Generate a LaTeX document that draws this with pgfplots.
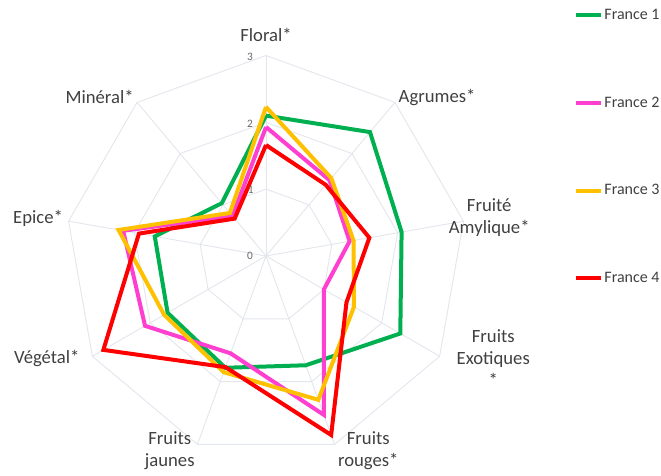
\documentclass[border=0pt]{standalone}
\usepackage{fontspec}
\setmainfont{Carlito}
\usepackage{pgfplots}
\pgfplotsset{compat=1.18}
\definecolor{cgreen}{HTML}{00B050}
\definecolor{cpink}{HTML}{FF3FD0}
\definecolor{cyellow}{HTML}{FFC000}
\definecolor{cred}{HTML}{FF0000}
\definecolor{gridc}{HTML}{E3E6EC}
\definecolor{txt}{HTML}{404040}
\begin{document}
\begin{tikzpicture}
\begin{axis}[
  x=50.1pt, y=50.1pt,
  xmin=-3.98, xmax=5.91, ymin=-3.28, ymax=3.83,
  hide axis, clip=false,
  legend style={at={(axis cs:4.60,3.72)}, anchor=north west, draw=none, fill=none,
    inner sep=0pt, row sep=54.5pt, font=\fontsize{12}{13.5}\selectfont, text=txt,
    nodes={inner sep=1pt}},
  legend cell align=left,
  legend image code/.code={\draw[#1] (0pt,0pt) -- (19pt,0pt);},
  every axis plot/.append style={line width=3pt},
]
% grid nonagons
\addplot[gridc, line width=0.7pt, data cs=polar, forget plot] coordinates {(90,1)(50,1)(10,1)(-30,1)(-70,1)(-110,1)(-150,1)(170,1)(130,1)(90,1)};
\addplot[gridc, line width=0.7pt, data cs=polar, forget plot] coordinates {(90,2)(50,2)(10,2)(-30,2)(-70,2)(-110,2)(-150,2)(170,2)(130,2)(90,2)};
\addplot[gridc, line width=0.7pt, data cs=polar, forget plot] coordinates {(90,3)(50,3)(10,3)(-30,3)(-70,3)(-110,3)(-150,3)(170,3)(130,3)(90,3)};
% spokes
\addplot[gridc, line width=0.7pt, data cs=polar, forget plot] coordinates {(90,0)(90,3)};
\addplot[gridc, line width=0.7pt, data cs=polar, forget plot] coordinates {(50,0)(50,3)};
\addplot[gridc, line width=0.7pt, data cs=polar, forget plot] coordinates {(10,0)(10,3)};
\addplot[gridc, line width=0.7pt, data cs=polar, forget plot] coordinates {(-30,0)(-30,3)};
\addplot[gridc, line width=0.7pt, data cs=polar, forget plot] coordinates {(-70,0)(-70,3)};
\addplot[gridc, line width=0.7pt, data cs=polar, forget plot] coordinates {(-110,0)(-110,3)};
\addplot[gridc, line width=0.7pt, data cs=polar, forget plot] coordinates {(-150,0)(-150,3)};
\addplot[gridc, line width=0.7pt, data cs=polar, forget plot] coordinates {(170,0)(170,3)};
\addplot[gridc, line width=0.7pt, data cs=polar, forget plot] coordinates {(130,0)(130,3)};
% series: Floral, Agrumes, Fruite, Exotiques, rouges, jaunes, Vegetal, Epice, Mineral
\addplot[cgreen, data cs=polar] coordinates {(90,2.10)(50,2.42)(10,2.06)(-30,2.32)(-70,1.74)(-110,1.78)(-150,1.70)(170,1.69)(130,1.03)(90,2.10)};
\addlegendentry{France 1}
\addplot[cpink, data cs=polar] coordinates {(90,1.93)(50,1.48)(10,1.27)(-30,1.00)(-70,2.53)(-110,1.55)(-150,2.09)(170,2.17)(130,0.78)(90,1.93)};
\addlegendentry{France 2}
\addplot[cyellow, data cs=polar] coordinates {(90,2.23)(50,1.52)(10,1.33)(-30,1.52)(-70,2.29)(-110,1.85)(-150,1.76)(170,2.24)(130,0.84)(90,2.23)};
\addlegendentry{France 3}
\addplot[cred, data cs=polar] coordinates {(90,1.66)(50,1.39)(10,1.57)(-30,1.39)(-70,2.85)(-110,1.77)(-150,2.81)(170,1.93)(130,0.73)(90,1.66)};
\addlegendentry{France 4}
% tick labels
\begin{scope}[every node/.style={text=txt!80, font=\fontsize{8.5}{10}\selectfont}]
\node at (axis cs:-0.24,2.98) {3};
\node at (axis cs:-0.24,1.98) {2};
\node at (axis cs:-0.23,0.99) {1};
\node at (axis cs:-0.24,0) {0};
\end{scope}
% category labels
\begin{scope}[every node/.style={text=txt, align=center, font=\fontsize{14}{16.5}\selectfont}]
\node at (axis cs:0,3.31) {Floral*};
\node at (axis cs:2.56,2.37) {Agrumes*};
\node at (axis cs:3.34,0.57) {Fruité\\Amylique*};
\node at (axis cs:3.40,-1.53) {Fruits\\Exotiques\\*};
\node at (axis cs:1.53,-2.92) {Fruits\\rouges*};
\node at (axis cs:-1.44,-2.92) {Fruits\\jaunes};
\node at (axis cs:-3.28,-1.53) {Végétal*};
\node at (axis cs:-3.41,0.57) {Epice*};
\node at (axis cs:-2.49,2.38) {Minéral*};
\end{scope}
\path (axis cs:-3.98,-3.28) rectangle (axis cs:5.91,3.83);
\end{axis}
\end{tikzpicture}
\end{document}
